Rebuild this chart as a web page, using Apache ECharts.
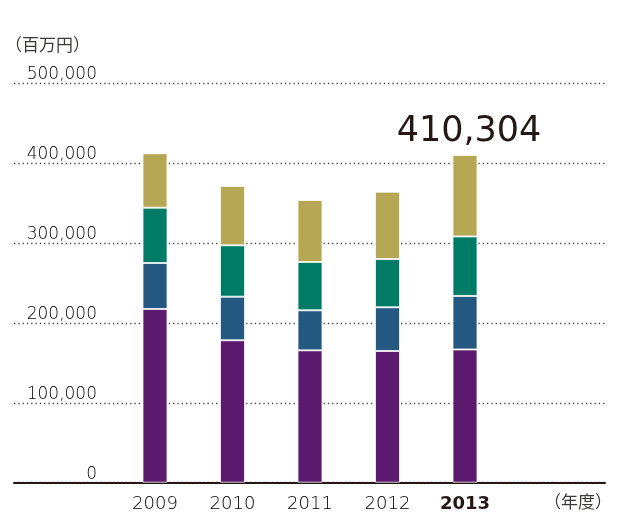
<!DOCTYPE html>
<html>
<head>
<meta charset="utf-8">
<script src="https://cdn.jsdelivr.net/npm/echarts@6/dist/echarts.min.js"></script>
<style>
html,body{margin:0;padding:0;background:#fff;}
#c{width:618px;height:514px;}
</style>
</head>
<body>
<div id="c"></div>
<script>
// ---- data (百万円) ----
const years = ['2009', '2010', '2011', '2012', '2013'];
const seriesA = [217500, 178300, 165700, 164900, 166800]; // purple (bottom)
const seriesB = [57500, 54600, 50100, 54700, 67000];      // blue
const seriesC = [69300, 64300, 60500, 60400, 74500];      // teal
const seriesD = [68100, 74200, 77600, 84300, 102004];     // gold (top)
const yTicks = [0, 100000, 200000, 300000, 400000, 500000];
const highlightIndex = 4;
const unitLabel = '（百万円）';
const yearUnitLabel = '（年度）';

const totals = years.map((_, i) => seriesA[i] + seriesB[i] + seriesC[i] + seriesD[i]);
const fmt = v => String(v).replace(/\B(?=(\d{3})+(?!\d))/g, ',');

const numFont = 'DejaVu Sans';
const cjkFont = 'Noto Sans CJK JP';
const colors = ['#5b1a6e', '#235880', '#007c66', '#b6a754'];
const topM = 83.3, botM = 31.3;

const chart = echarts.init(document.getElementById('c'), null, {renderer: 'canvas'});

function mk(name, data, color, last) {
  return {
    name: name, type: 'bar', stack: 'total', xAxisIndex: 1, yAxisIndex: 1,
    barWidth: 25, data: data.map((v, i) => {
      const d = {value: v};
      if (last && i === highlightIndex) {
        d.label = {
          show: true, position: 'top', distance: 6, offset: [4, 0],
          formatter: () => fmt(totals[highlightIndex]),
          fontFamily: numFont, fontSize: 35, fontWeight: 'normal', color: '#231815'
        };
      }
      return d;
    }),
    itemStyle: {color: color, borderColor: 'rgba(255,255,255,0.75)', borderWidth: 1},
    emphasis: {disabled: true}, animation: false
  };
}

chart.setOption({
  animation: false,
  grid: [
    {left: 14, right: 13, top: topM, bottom: botM},
    {left: 116.25, right: 114.25, top: topM, bottom: botM}
  ],
  xAxis: [
    {gridIndex: 0, type: 'value', min: 0, max: 1,
     axisLine: {show: true, onZero: false, lineStyle: {color: '#231815', width: 2}},
     axisTick: {show: false}, axisLabel: {show: false}, splitLine: {show: false}},
    {gridIndex: 1, type: 'category', data: years,
     axisLine: {show: false}, axisTick: {show: false},
     axisLabel: {
       margin: 13,
       formatter: (v, i) => i === highlightIndex ? '{b|' + v + '}' : '{n|' + v + '}',
       rich: {
         n: {fontFamily: numFont, fontSize: 18, color: '#000', fontWeight: 200},
         b: {fontFamily: numFont, fontSize: 18, color: '#231815', fontWeight: 'bold'}
       }
     }}
  ],
  yAxis: [
    {gridIndex: 0, type: 'value', min: yTicks[0], max: yTicks[yTicks.length - 1],
     interval: yTicks[1] - yTicks[0],
     axisLine: {show: false}, axisTick: {show: false},
     axisLabel: {
       inside: true, margin: 83, align: 'right', verticalAlign: 'bottom',
       fontFamily: numFont, fontSize: 17, fontWeight: 200, color: '#000',
       formatter: v => fmt(v)
     },
     splitLine: {show: true, lineStyle: {color: '#444', width: 1.3, type: [1.3, 3]}}},
    {gridIndex: 1, type: 'value', min: yTicks[0], max: yTicks[yTicks.length - 1],
     show: false, splitLine: {show: false}}
  ],
  graphic: [
    {type: 'text', left: 5, top: 36, silent: true,
     style: {text: unitLabel, fontFamily: cjkFont, fontSize: 17, fill: '#3e3a39'}},
    {type: 'text', left: 544, top: 493, silent: true,
     style: {text: yearUnitLabel, fontFamily: cjkFont, fontSize: 17, fill: '#3e3a39'}}
  ],
  series: [
    mk('A', seriesA, colors[0], false),
    mk('B', seriesB, colors[1], false),
    mk('C', seriesC, colors[2], false),
    mk('D', seriesD, colors[3], true)
  ]
});
</script>
</body>
</html>
